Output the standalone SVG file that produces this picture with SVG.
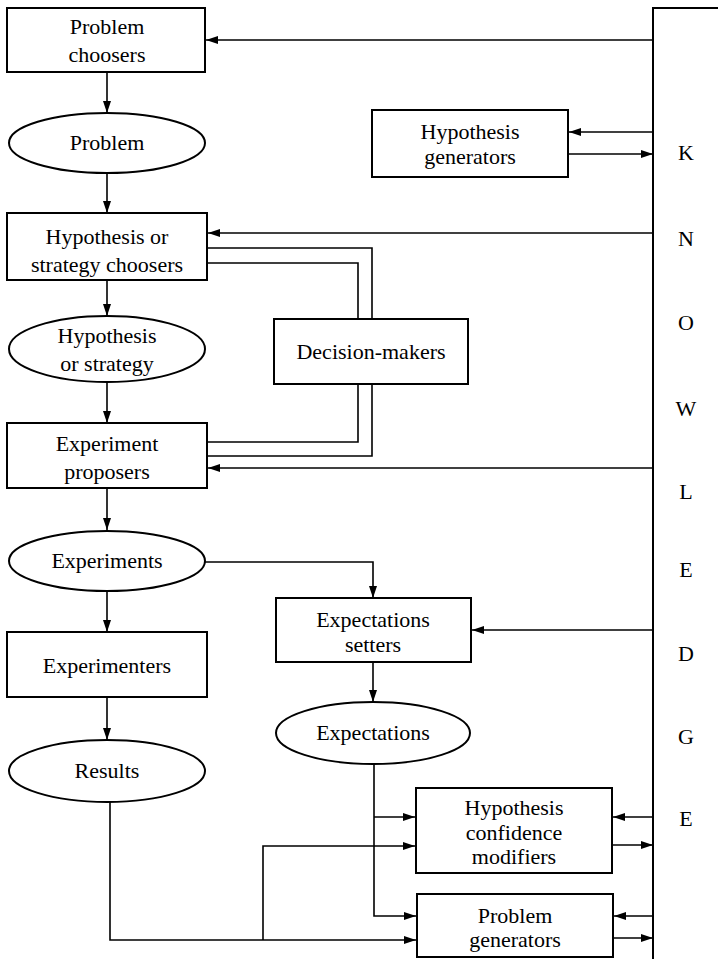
<svg xmlns="http://www.w3.org/2000/svg" width="718" height="959" viewBox="0 0 718 959" font-family="Liberation Serif, Times New Roman, serif">
  <style>
    .box { fill: #fff; stroke: #000; stroke-width: 2; }
    .oval { fill: #fff; stroke: #000; stroke-width: 2; }
    .lbl { font-size: 22px; fill: #000; text-anchor: middle; }
    .wire { fill: none; stroke: #000; stroke-width: 1.6; }
    .arr { fill: none; stroke: #000; stroke-width: 1.6; marker-end: url(#head); }
  </style>
  <defs>
    <marker id="head" viewBox="0 0 12 8" refX="12" refY="4" markerWidth="12" markerHeight="8" markerUnits="userSpaceOnUse" orient="auto">
      <path d="M0,0 L12,4 L0,8 Z" fill="#000"/>
    </marker>
  </defs>
  <rect width="718" height="959" fill="#fff"/>

  <!-- knowledge store column -->
  <g id="knowledge">
    <rect class="box" x="653" y="8" width="90" height="970"/>
    <text class="lbl" x="686" y="160">K</text>
    <text class="lbl" x="686" y="246">N</text>
    <text class="lbl" x="686" y="330">O</text>
    <text class="lbl" x="686" y="416">W</text>
    <text class="lbl" x="686" y="499">L</text>
    <text class="lbl" x="686" y="577">E</text>
    <text class="lbl" x="686" y="661">D</text>
    <text class="lbl" x="686" y="744">G</text>
    <text class="lbl" x="686" y="826">E</text>
  </g>

  <g id="connectors">
    <!-- knowledge feeds -->
    <line class="arr" x1="653" y1="40" x2="206" y2="40"/>
    <line class="arr" x1="653" y1="132" x2="569" y2="132"/>
    <line class="arr" x1="569" y1="154" x2="653" y2="154"/>
    <line class="arr" x1="653" y1="233" x2="208" y2="233"/>
    <line class="arr" x1="653" y1="468" x2="208" y2="468"/>
    <line class="arr" x1="653" y1="630" x2="472" y2="630"/>
    <line class="arr" x1="653" y1="817" x2="613" y2="817"/>
    <line class="arr" x1="613" y1="845" x2="653" y2="845"/>
    <line class="arr" x1="653" y1="916" x2="614" y2="916"/>
    <line class="arr" x1="614" y1="938" x2="653" y2="938"/>

    <!-- main chain -->
    <line class="arr" x1="107" y1="72" x2="107" y2="113"/>
    <line class="arr" x1="107" y1="173" x2="107" y2="213"/>
    <line class="arr" x1="107" y1="280" x2="107" y2="316"/>
    <line class="arr" x1="107" y1="382" x2="107" y2="423"/>
    <line class="arr" x1="107" y1="488" x2="107" y2="530"/>
    <line class="arr" x1="107" y1="591" x2="107" y2="632"/>
    <line class="arr" x1="107" y1="697" x2="107" y2="740"/>

    <!-- decision-makers links -->
    <polyline class="wire" points="207,248 372,248 372,319"/>
    <polyline class="wire" points="207,263 358,263 358,319"/>
    <polyline class="wire" points="358,384 358,442 207,442"/>
    <polyline class="wire" points="372,384 372,456 207,456"/>

    <!-- experiments to expectations -->
    <polyline class="arr" points="205,562 373,562 373,598"/>
    <line class="arr" x1="373" y1="662" x2="373" y2="702"/>

    <!-- expectations to modifiers and generators -->
    <polyline class="arr" points="374,764 374,916 416,916"/>
    <line class="arr" x1="374" y1="817" x2="415" y2="817"/>

    <!-- results to modifiers and generators -->
    <polyline class="arr" points="110,802 110,940 416,940"/>
    <polyline class="arr" points="263,940 263,846 415,846"/>
  </g>

  <g id="problem-choosers">
    <rect class="box" x="7" y="8" width="198" height="64"/>
    <text class="lbl" x="107" y="34">Problem</text>
    <text class="lbl" x="107" y="62">choosers</text>
  </g>

  <g id="problem">
    <ellipse class="oval" cx="107" cy="143" rx="98" ry="30"/>
    <text class="lbl" x="107" y="150">Problem</text>
  </g>

  <g id="hypothesis-generators">
    <rect class="box" x="372" y="110" width="196" height="67"/>
    <text class="lbl" x="470" y="139">Hypothesis</text>
    <text class="lbl" x="470" y="164">generators</text>
  </g>

  <g id="hypothesis-choosers">
    <rect class="box" x="7" y="213" width="200" height="67"/>
    <text class="lbl" x="107" y="244">Hypothesis or</text>
    <text class="lbl" x="107" y="272">strategy choosers</text>
  </g>

  <g id="hypothesis">
    <ellipse class="oval" cx="107" cy="349" rx="98" ry="33"/>
    <text class="lbl" x="107" y="343">Hypothesis</text>
    <text class="lbl" x="107" y="371">or strategy</text>
  </g>

  <g id="decision-makers">
    <rect class="box" x="274" y="319" width="194" height="65"/>
    <text class="lbl" x="371" y="359">Decision-makers</text>
  </g>

  <g id="experiment-proposers">
    <rect class="box" x="7" y="423" width="200" height="65"/>
    <text class="lbl" x="107" y="451">Experiment</text>
    <text class="lbl" x="107" y="479">proposers</text>
  </g>

  <g id="experiments">
    <ellipse class="oval" cx="107" cy="561" rx="98" ry="30"/>
    <text class="lbl" x="107" y="568">Experiments</text>
  </g>

  <g id="experimenters">
    <rect class="box" x="7" y="632" width="200" height="65"/>
    <text class="lbl" x="107" y="673">Experimenters</text>
  </g>

  <g id="results">
    <ellipse class="oval" cx="107" cy="771" rx="98" ry="31"/>
    <text class="lbl" x="107" y="778">Results</text>
  </g>

  <g id="expectations-setters">
    <rect class="box" x="276" y="598" width="195" height="64"/>
    <text class="lbl" x="373" y="627">Expectations</text>
    <text class="lbl" x="373" y="652">setters</text>
  </g>

  <g id="expectations">
    <ellipse class="oval" cx="373" cy="733" rx="97" ry="31"/>
    <text class="lbl" x="373" y="740">Expectations</text>
  </g>

  <g id="confidence-modifiers">
    <rect class="box" x="416" y="788" width="196" height="85"/>
    <text class="lbl" x="514" y="815">Hypothesis</text>
    <text class="lbl" x="514" y="840">confidence</text>
    <text class="lbl" x="514" y="864">modifiers</text>
  </g>

  <g id="problem-generators">
    <rect class="box" x="417" y="894" width="196" height="63"/>
    <text class="lbl" x="515" y="923">Problem</text>
    <text class="lbl" x="515" y="947">generators</text>
  </g>
</svg>
